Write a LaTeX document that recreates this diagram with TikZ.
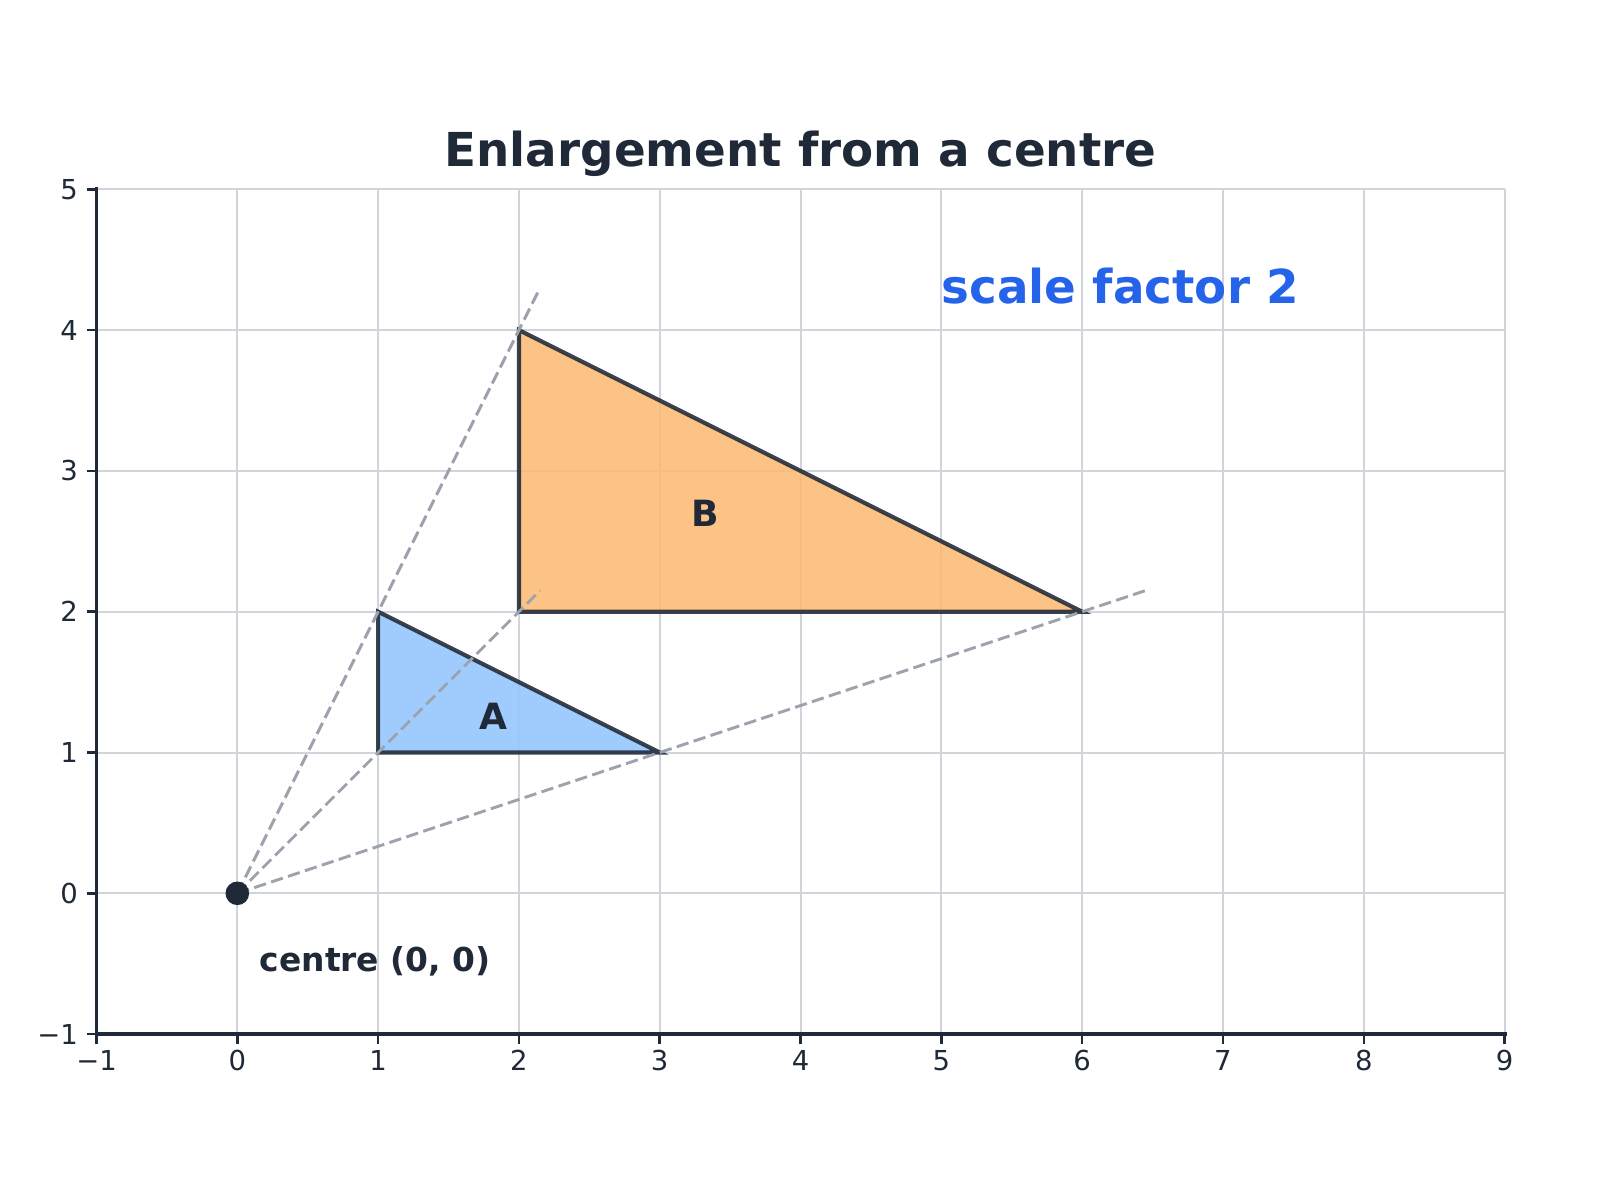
\documentclass[tikz,border=0pt]{standalone}
\usepackage{fontspec}
\setmainfont{DejaVu Sans}
\usetikzlibrary{positioning}

\definecolor{ink}{HTML}{1F2937}
\definecolor{gridgray}{HTML}{D1D5DB}
\definecolor{raygray}{HTML}{9CA3AF}
\definecolor{fillA}{HTML}{93C5FD}
\definecolor{fillB}{HTML}{FDBA74}
\definecolor{accent}{HTML}{2563EB}

\newcommand\ticknum[1]{\ifnum#1<0 −\number-#1\else#1\fi}

\tikzset{
  gridline/.style={draw=gridgray, line width=0.8pt},
  spine/.style={draw=ink, line width=1.6pt, line cap=rect},
  tickmark/.style={draw=ink, line width=1pt},
  ticklabel/.style={text=ink, inner sep=0pt, font=\fontsize{11.1}{13}\selectfont},
  trifig/.style={draw=ink, line width=1.7pt, opacity=0.88},
  ray/.style={draw=raygray, line width=1.2pt, dash pattern=on 5pt off 2.2pt},
  tag/.style={text=ink, inner sep=0pt, font=\fontsize{13.3}{16}\selectfont\bfseries},
  figtag/.style={tag, font=\fontsize{14.6}{17}\selectfont\bfseries},
  centredot/.style={circle, fill=ink, inner sep=0pt, minimum size=0.335cm},
}

\begin{document}
\begin{tikzpicture}[x=2cm, y=2cm]
  \useasboundingbox (-1.6854,-2.178) rectangle (9.678,6.3445);

  % Grid
  \foreach \x in {-1,...,9} \draw[gridline] (\x,-1) -- (\x,5);
  \foreach \y in {-1,...,5} \draw[gridline] (-1,\y) -- (9,\y);

  % Axes and ticks
  \draw[spine] (-1,5) -- (-1,-1) -- (9,-1);
  \foreach \x in {-1,...,9} {
    \draw[tickmark] (\x,-1) -- (\x,-1.071);
    \node[ticklabel, anchor=north] (xlab\x) at (\x,-1.113) {\ticknum{\x}};
  }
  \foreach \y in {-1,...,5} {
    \draw[tickmark] (-1,\y) -- (-1.071,\y);
    \node[ticklabel, anchor=east] (ylab\y) at (-1.129,\y) {\ticknum{\y}};
  }

  % Define points
  \coordinate (O) at (0,0);
  \coordinate (A1) at (1,1);
  \coordinate (A2) at (3,1);
  \coordinate (A3) at (1,2);
  \coordinate (B1) at (2,2);
  \coordinate (B2) at (6,2);
  \coordinate (B3) at (2,4);
  \coordinate (R1) at (2.15,4.3);
  \coordinate (R2) at (2.15,2.15);
  \coordinate (R3) at (6.45,2.15);

  % Shapes
  \filldraw[trifig, fill=fillA] (A1) -- (A2) -- (A3) -- cycle;
  \filldraw[trifig, fill=fillB] (B1) -- (B2) -- (B3) -- cycle;

  % Rays from the centre
  \draw[ray] (O) -- (R1);
  \draw[ray] (O) -- (R2);
  \draw[ray] (O) -- (R3);
  \node[centredot] (centre) at (O) {};

  % Labels
  \node[figtag] (labA) at (1.82,1.26) {A};
  \node[figtag] (labB) at (3.32,2.70) {B};
  \node[tag, anchor=base west] (centrelab) at (0.156,-0.557) {centre (0, 0)};
  \node[anchor=base west, inner sep=0pt, text=accent,
        font=\fontsize{18.9}{23}\selectfont\bfseries] (factor) at (5.0,4.19) {scale factor 2};
  \node[anchor=base, inner sep=0pt, text=ink,
        font=\fontsize{18.9}{23}\selectfont\bfseries] (title) at (4,5.161) {Enlargement from a centre};

\end{tikzpicture}
\end{document}
